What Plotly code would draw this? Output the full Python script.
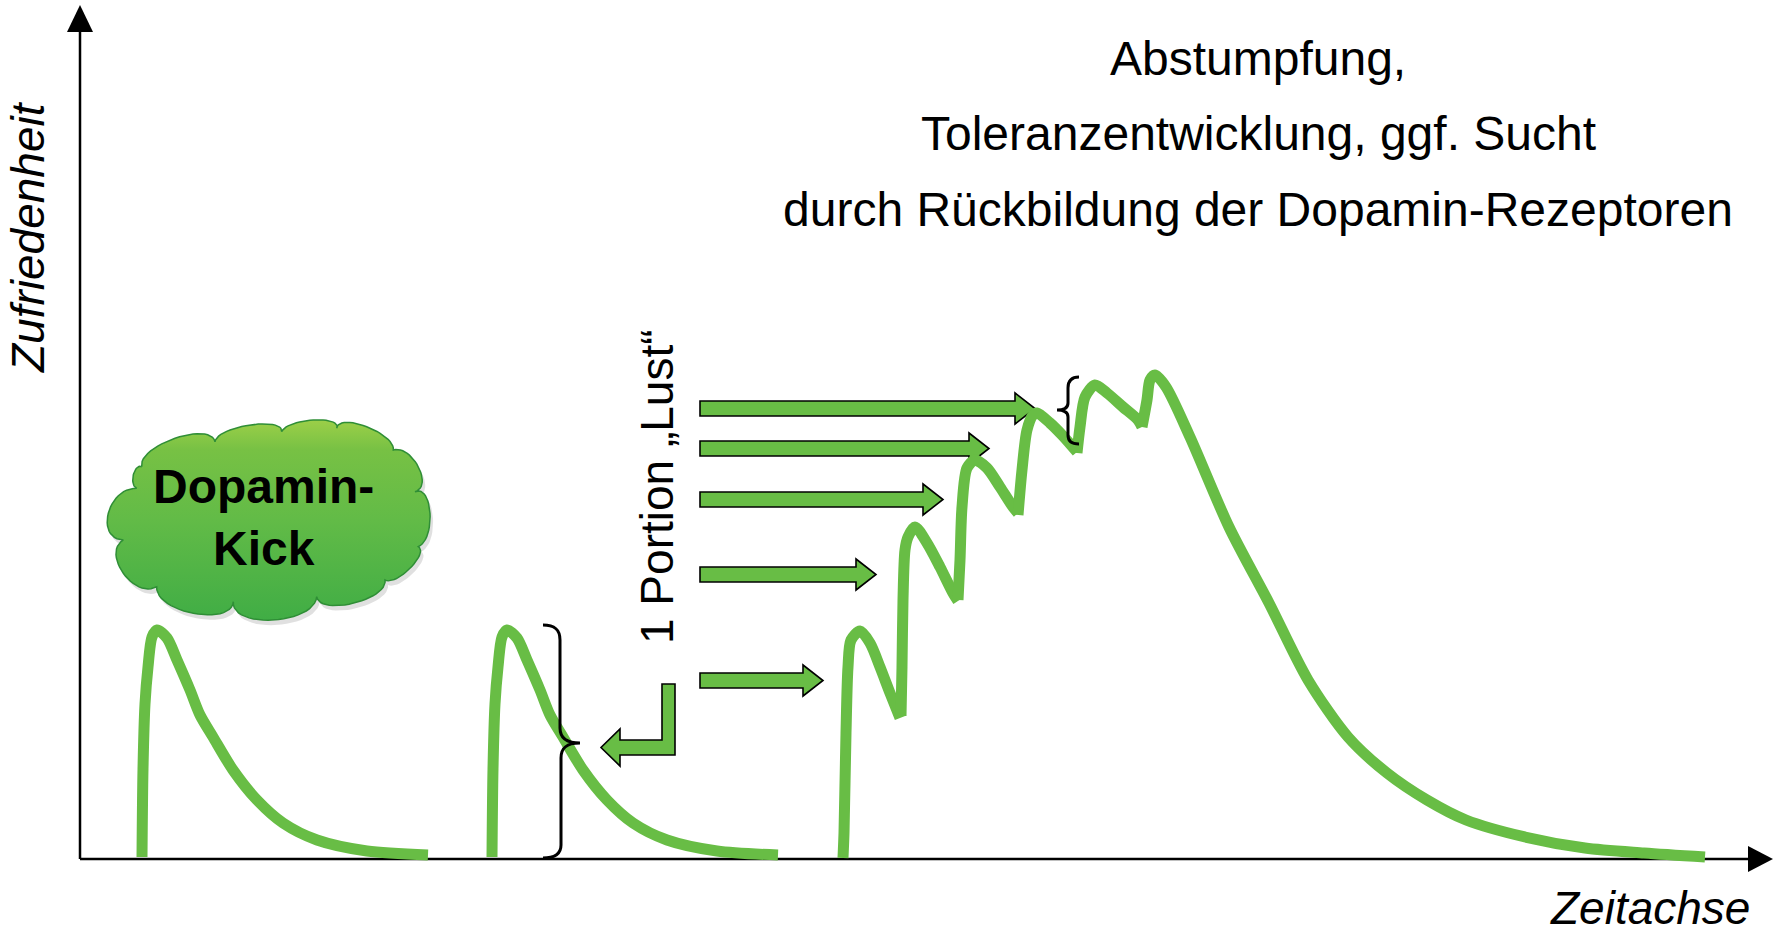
import plotly.graph_objects as go

# --- Zufriedenheit über der Zeit -------------------------------------------
# einzelner Dopamin-Kick (erste Portion)
kick1_t = [62, 63, 65, 68, 72, 77, 87, 97, 110, 120, 133, 153, 177, 203, 237, 287, 348]
kick1_y = [2, 90, 155, 192, 222, 229, 221, 199, 169, 144, 122, 89, 59, 36, 19, 8, 4]
# zweiter, gleich großer Kick nach dem Abklingen
kick2_t = [412, 413, 415, 418, 422, 427, 437, 447, 460, 470, 483, 503, 527, 553, 587, 637, 698]
kick2_y = [2, 90, 155, 192, 222, 229, 221, 199, 169, 144, 122, 89, 59, 36, 19, 8, 4]

# schnell nachgelegte Portionen: je ein Abschnitt bis zur nächsten Portion
stack_t = [
    [763, 764, 766, 768, 771, 780, 790, 800, 810, 820],
    [821, 822, 823, 825, 828, 835, 847, 860, 873, 878],
    [878, 880, 882, 887, 895, 907, 920, 933, 938],
    [938, 942, 947, 953, 957, 970, 983, 997],
    [997, 1000, 1005, 1015, 1027, 1043, 1058, 1062],
    [1062, 1067, 1070, 1075, 1086, 1110, 1149, 1189, 1228, 1268, 1307, 1347,
     1386, 1445, 1505, 1564, 1625],
]
stack_y = [
    [1, 26, 126, 192, 219, 228, 216, 192, 166, 141],
    [143, 192, 259, 309, 322, 332, 316, 292, 266, 258],
    [259, 299, 352, 391, 399, 391, 372, 352, 346],
    [344, 389, 429, 444, 446, 436, 423, 407],
    [406, 432, 462, 474, 466, 452, 439, 432],
    [432, 459, 479, 484, 472, 422, 332, 256, 179, 122, 86, 59, 39, 22, 11, 6, 2],
]

# Pfeile "1 Portion Lust": Höhe und Spitze je Portion
dose_y = [178.5, 284.5, 359.5, 410.5, 450.5]
dose_tip = [743, 796, 863, 909, 955]
dose_start = 620

title_lines = ["Abstumpfung,", "Toleranzentwicklung, ggf. Sucht",
               "durch Rückbildung der Dopamin-Rezeptoren"]

GREEN = "#68bd45"
FONT = "Arial, Liberation Sans, sans-serif"

fig = go.Figure()

# --- Wolke "Dopamin-Kick" ----------------------------------------------------
cloud_nodes = [
    (61.7, 392.3), (95, 420.7), (135, 417.3), (170, 434), (201.7, 427.3),
    (233.3, 439), (256.7, 430.7), (286.7, 432.3), (313.3, 409), (338.3, 392.3),
    (335, 367.3), (350, 345.7), (338.3, 312.3), (330, 290.7), (305, 279),
    (273.3, 255.7), (236.7, 262.3), (193.3, 239), (153.3, 257.3), (113.3, 245.7),
    (76.7, 272.3), (43.3, 285.7), (43.3, 319), (28.3, 345.7), (56.7, 370.7),
    (53.3, 384),
]


def cloud_outline(nodes, steps=24):
    """Bögen zwischen Einkerbungen (gerade Indizes) durch die Scheitel (ungerade)."""
    xs, ys = [], []
    n = len(nodes)
    for i in range(0, n, 2):
        p0 = nodes[i]
        ap = nodes[(i + 1) % n]
        p3 = nodes[(i + 2) % n]
        mx, my = (p0[0] + p3[0]) / 2, (p0[1] + p3[1]) / 2
        dx, dy = (ap[0] - mx) * 4 / 3, (ap[1] - my) * 4 / 3
        p1 = (p0[0] + dx, p0[1] + dy)
        p2 = (p3[0] + dx, p3[1] + dy)
        for k in range(steps):
            t = k / steps
            u = 1 - t
            xs.append(u**3 * p0[0] + 3 * u * u * t * p1[0] + 3 * u * t * t * p2[0] + t**3 * p3[0])
            ys.append(u**3 * p0[1] + 3 * u * u * t * p1[1] + 3 * u * t * t * p2[1] + t**3 * p3[1])
    xs.append(xs[0])
    ys.append(ys[0])
    return xs, ys


cx, cy = cloud_outline(cloud_nodes)
fig.add_trace(go.Scatter(
    x=[v + 3 for v in cx], y=[v - 5 for v in cy], mode="lines", fill="toself",
    fillcolor="rgba(0,0,0,0.12)", line=dict(width=0), hoverinfo="skip",
    showlegend=False))
fig.add_trace(go.Scatter(
    x=cx, y=cy, mode="lines", fill="toself",
    fillgradient=dict(type="vertical",
                      colorscale=[[0, "#40ad45"], [0.5, "#62bb47"],
                                  [0.85, "#77c144"], [1, "#9ccf48"]]),
    line=dict(color="#2f8e36", width=1.5), hoverinfo="skip", showlegend=False))

# --- Kurven ------------------------------------------------------------------
curve_style = dict(mode="lines", line=dict(color=GREEN, width=11, shape="spline",
                                           smoothing=0.8),
                   hoverinfo="skip", showlegend=False)
fig.add_trace(go.Scatter(x=kick1_t, y=kick1_y, **curve_style))
fig.add_trace(go.Scatter(x=kick2_t, y=kick2_y, **curve_style))
for t_seg, y_seg in zip(stack_t, stack_y):
    fig.add_trace(go.Scatter(x=t_seg, y=y_seg, **curve_style))

# --- Achsen mit Pfeilspitzen -------------------------------------------------
shapes = [
    dict(type="line", x0=0, y0=0, x1=0, y1=830,
         line=dict(color="black", width=2.5), layer="below"),
    dict(type="path", path="M -13,827 L 13,827 L 0,854 Z",
         fillcolor="black", line=dict(width=0), layer="below"),
    dict(type="line", x0=0, y0=0, x1=1672, y1=0,
         line=dict(color="black", width=2.5), layer="below"),
    dict(type="path", path="M 1668,13 L 1668,-13 L 1693,0 Z",
         fillcolor="black", line=dict(width=0), layer="below"),
]


def block_arrow(x0, x1, yc, shaft=7.5, head=15.5, head_len=20):
    xb = x1 - head_len
    return (f"M {x0},{yc - shaft} L {xb},{yc - shaft} L {xb},{yc - head} "
            f"L {x1},{yc} L {xb},{yc + head} L {xb},{yc + shaft} "
            f"L {x0},{yc + shaft} Z")


for yc, tip in zip(dose_y, dose_tip):
    shapes.append(dict(type="path", path=block_arrow(dose_start, tip, yc),
                       fillcolor=GREEN, line=dict(color="black", width=1.6),
                       layer="below"))

# Winkelpfeil zur einzelnen Portion
shapes.append(dict(
    type="path",
    path="M 582,175 L 595,175 L 595,104 L 540,104 L 540,93 L 521,111.5 "
         "L 540,130 L 540,119 L 582,119 Z",
    fillcolor=GREEN, line=dict(color="black", width=1.6), layer="below"))

# geschweifte Klammern
shapes.append(dict(
    type="path",
    path="M 463,234 C 473,234 480,231 480,219 L 480,131 C 480,121 486,116 500,116 "
         "C 486,116 481,111 481,101 L 481,14 C 481,5 474,1 463,1",
    line=dict(color="black", width=3)))
shapes.append(dict(
    type="path",
    path="M 999,482 C 991,482 988,478 988,471 L 988,456 C 988,451 984,449 977,449 "
         "C 984,449 988,447 988,442 L 988,424 C 988,418 991,415 999,415",
    line=dict(color="black", width=3)))

# --- Beschriftungen ----------------------------------------------------------
annotations = [
    dict(x=183, y=342, text="<b>Dopamin-<br>Kick</b>", showarrow=False,
         font=dict(family=FONT, size=48, color="black")),
    dict(x=577, y=372, text="1 Portion „Lust“", textangle=-90, showarrow=False,
         font=dict(family=FONT, size=46, color="black")),
    dict(x=-52, y=622, text="<i>Zufriedenheit</i>", textangle=-90, showarrow=False,
         font=dict(family=FONT, size=46, color="black")),
    dict(x=1570, y=-49, text="<i>Zeitachse</i>", showarrow=False,
         font=dict(family=FONT, size=46, color="black")),
]
for line_text, yy in zip(title_lines, [801, 726, 650]):
    annotations.append(dict(x=1178, y=yy, text=line_text, showarrow=False,
                            font=dict(family=FONT, size=48, color="black")))

fig.update_layout(
    width=1781, height=935, autosize=False,
    margin=dict(l=0, r=0, t=0, b=0, pad=0),
    paper_bgcolor="white", plot_bgcolor="white",
    xaxis=dict(range=[-80, 1701], visible=False, fixedrange=True),
    yaxis=dict(range=[-76, 859], visible=False, fixedrange=True),
    shapes=shapes, annotations=annotations, showlegend=False,
)

fig.write_html("out.html")
